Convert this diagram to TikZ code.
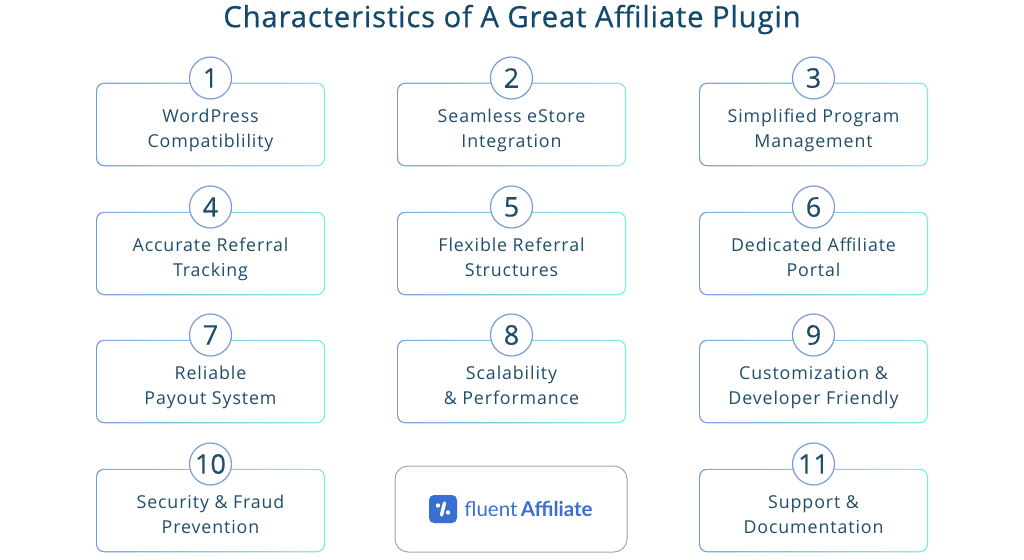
\documentclass[tikz,border=0pt]{standalone}
\usepackage{fontspec}
\usepackage{tikz}
\usetikzlibrary{positioning}
\setmainfont[LetterSpace=5]{Open Sans}
\newfontfamily\titlefont[LetterSpace=3,FakeBold=0.7]{Open Sans}
\newfontfamily\numfont[FakeBold=0.3]{Open Sans}
\newfontfamily\logofont{Lato}
\definecolor{inkblue}{HTML}{1F4E6B}
\definecolor{titleblue}{HTML}{14496E}
\definecolor{edgeblue}{HTML}{6F9BE0}
\definecolor{edgecyan}{HTML}{72EDEA}
\definecolor{ringblue}{HTML}{7C9BD6}
\definecolor{logoblue}{HTML}{3A6FD2}
\tikzset{
    cardedge/.style={rounded corners=8pt, minimum width=229pt, minimum height=83.5pt, inner sep=0pt, outer sep=0pt, left color=edgeblue, right color=edgecyan,
        path picture={\fill[white, rounded corners=7pt] ([shift={(1.2pt,1.2pt)}]path picture bounding box.south west) rectangle ([shift={(-1.2pt,-1.2pt)}]path picture bounding box.north east);}},
    cardtext/.style={anchor=base, inner sep=0pt, text=inkblue, align=center, font=\fontsize{17.8}{24.5}\selectfont},
    numring/.style={circle, draw=ringblue, line width=1.2pt, fill=white, minimum size=42pt, inner sep=0pt, text=inkblue, font=\numfont\fontsize{27}{30}\selectfont},
}

\begin{document}
\begin{tikzpicture}[x=1pt,y=-1pt]
    \useasboundingbox (0,0) rectangle (1024,559);
    % Title
    \node[text=titleblue, font=\titlefont\fontsize{29.2}{32}\selectfont] (title) at (512,19.5) {Characteristics of A Great Affiliate Plugin};
    % First row
    \node[cardedge] (wordpress) at (210.5,124.5) {};
    \node[cardtext] (wordpresstext) at ([yshift=-22.5pt]wordpress.center) {WordPress\\Compatiblility};
    \node[numring] (wordpressnum) at (210.5,78) {1};
    \node[cardedge] (estore) at (511.5,124.5) {};
    \node[cardtext] (estoretext) at ([yshift=-22.5pt]estore.center) {Seamless eStore\\Integration};
    \node[numring] (estorenum) at (511.5,78) {2};
    \node[cardedge] (program) at (813.5,124.5) {};
    \node[cardtext] (programtext) at ([yshift=-22.5pt]program.center) {Simplified Program\\Management};
    \node[numring] (programnum) at (813.5,78) {3};
    % Second row
    \node[cardedge] (tracking) at (210.5,253.5) {};
    \node[cardtext] (trackingtext) at ([yshift=-22.5pt]tracking.center) {Accurate Referral\\Tracking};
    \node[numring] (trackingnum) at (210.5,207) {4};
    \node[cardedge] (referral) at (511.5,253.5) {};
    \node[cardtext] (referraltext) at ([yshift=-22.5pt]referral.center) {Flexible Referral\\Structures};
    \node[numring] (referralnum) at (511.5,207) {5};
    \node[cardedge] (portal) at (813.5,253.5) {};
    \node[cardtext] (portaltext) at ([yshift=-22.5pt]portal.center) {Dedicated Affiliate\\Portal};
    \node[numring] (portalnum) at (813.5,207) {6};
    % Third row
    \node[cardedge] (payout) at (210.5,381.5) {};
    \node[cardtext] (payouttext) at ([yshift=-22.5pt]payout.center) {Reliable\\Payout System};
    \node[numring] (payoutnum) at (210.5,335) {7};
    \node[cardedge] (scale) at (511.5,381.5) {};
    \node[cardtext] (scaletext) at ([yshift=-22.5pt]scale.center) {Scalability\\\& Performance};
    \node[numring] (scalenum) at (511.5,335) {8};
    \node[cardedge] (custom) at (813.5,381.5) {};
    \node[cardtext] (customtext) at ([yshift=-22.5pt]custom.center) {Customization \&\\Developer Friendly};
    \node[numring] (customnum) at (813.5,335) {9};
    % Last row
    \node[cardedge] (security) at (210.5,510.5) {};
    \node[cardtext] (securitytext) at ([yshift=-22.5pt]security.center) {Security \& Fraud\\Prevention};
    \node[numring] (securitynum) at (210.5,464) {10};
    \node[cardedge] (support) at (813.5,510.5) {};
    \node[cardtext] (supporttext) at ([yshift=-22.5pt]support.center) {Support \&\\Documentation};
    \node[numring] (supportnum) at (813.5,464) {11};
    % Logo card
    \node[draw=black!35, line width=1pt, rounded corners=13pt, minimum width=232pt, minimum height=86pt] (logocard) at (511,509) {};
    \node[fill=logoblue, rounded corners=5pt, minimum size=28pt, inner sep=0pt] (logoicon) at (443,509) {};
    \draw[white, line width=3.4pt, line cap=round] ([xshift=1.5pt,yshift=6pt]logoicon.center) -- ([xshift=-1.5pt,yshift=-6pt]logoicon.center);
    \fill[white] ([xshift=-5pt,yshift=3.5pt]logoicon.center) circle (2.2pt);
    \fill[white] ([xshift=5pt,yshift=-3.5pt]logoicon.center) circle (2.2pt);
    \node[right=7pt of logoicon, inner sep=0pt, text=logoblue, font=\logofont\fontsize{20.5}{24}\selectfont] (logotext) {fluent\,\textbf{Affiliate}};
\end{tikzpicture}
\end{document}
